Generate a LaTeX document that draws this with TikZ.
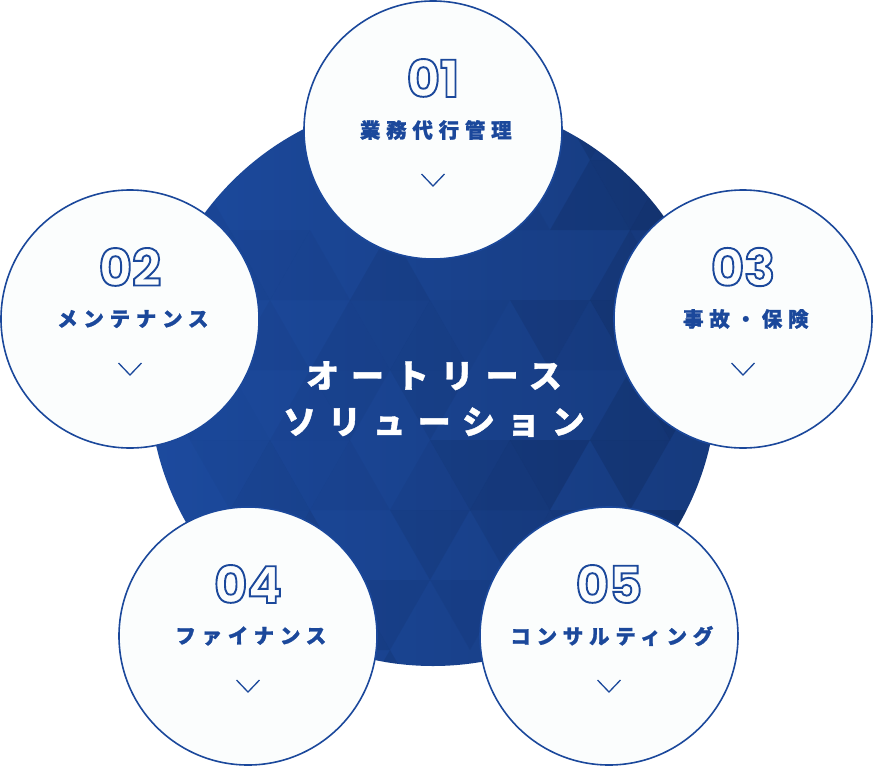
\documentclass[tikz,border=0pt]{standalone}
\usepackage{fontspec}
\setmainfont{Noto Sans CJK JP}
\newfontfamily\lblfont{Noto Sans CJK JP}[LetterSpace=28,FakeBold=1.2]
\newfontfamily\titlefont{Noto Sans CJK JP}[LetterSpace=36,FakeBold=1.2]
\newfontfamily\numfont{Poppins}
\usetikzlibrary{positioning}
\definecolor{myblue}{RGB}{27,72,155}
\definecolor{mylightblue}{RGB}{28,74,158}
\definecolor{mydarkblue}{RGB}{22,58,125}
\definecolor{myshadow}{RGB}{12,30,70}
\definecolor{mypaper}{RGB}{251,253,253}
\newcommand{\hollow}[1]{\special{pdf:literal direct 1 Tr 1.9 w}#1\special{pdf:literal direct 0 Tr}}

\begin{document}
\begin{tikzpicture}[x=1pt,y=-1pt,
    bubble/.style={circle,fill=mypaper,draw=myblue,line width=1.6pt,minimum size=258pt,inner sep=0pt},
    numtxt/.style={text=myblue,font=\numfont\bfseries\fontsize{51}{51}\selectfont,inner sep=0pt},
    lbltxt/.style={text=myblue,font=\lblfont\bfseries\fontsize{20.5}{20.5}\selectfont,inner sep=0pt},
    chev/.style={myblue,line width=1.3pt}]
  \useasboundingbox (0,0) rectangle (873,766);
  % big disc with the triangle pattern
  \begin{scope}
    \clip (433,382) circle (284);
    \shade[left color=mylightblue,right color=mydarkblue] (149,98) rectangle (717,666);
    \pgfmathsetseed{11}
    \foreach \row in {0,...,8}{
      \foreach \col in {0,...,7}{
        \pgfmathsetmacro\ox{110+\col*80+mod(\row,2)*40}
        \pgfmathsetmacro\oy{90+\row*70}
        \pgfmathsetmacro\opa{ifthenelse(rnd<0.45,0,(0.08+0.3*rnd)*(\ox/700))}
        \pgfmathsetmacro\opb{ifthenelse(rnd<0.45,0,(0.08+0.3*rnd)*(\ox/700))}
        \fill[myshadow,fill opacity=\opa] (\ox,\oy+70) -- (\ox+80,\oy+70) -- (\ox+40,\oy) -- cycle;
        \fill[myshadow,fill opacity=\opb] (\ox+40,\oy) -- (\ox+120,\oy) -- (\ox+80,\oy+70) -- cycle;}}
  \end{scope}
  \coordinate (big) at (433,382);
  \node[text=white,align=center,inner sep=0pt,
        font=\titlefont\bfseries\fontsize{33}{46}\selectfont]
    (title) at ([xshift=1pt,yshift=-17pt]big) {オートリース\\ソリューション};
  % the five bubbles
  \foreach \tx/\px/\py/\tl in {1/433/130/業務代行管理,2/130/319/メンテナンス,3/743/319/事故・保険,
                               4/248/636/ファイナンス,5/609/636/コンサルティング}{
    \node[bubble] (c\tx) at (\px,\py) {};
    \node[numtxt] (n\tx) at ([yshift=52pt]c\tx.center) {\hollow{0\tx}};
    \node[lbltxt] (l\tx) at ([xshift=2.8pt]c\tx.center) {\tl};
    \draw[chev] ([xshift=-11.5pt,yshift=-44pt]c\tx.center) -- ([yshift=-56pt]c\tx.center)
                -- ([xshift=11.5pt,yshift=-44pt]c\tx.center);}
\end{tikzpicture}
\end{document}
